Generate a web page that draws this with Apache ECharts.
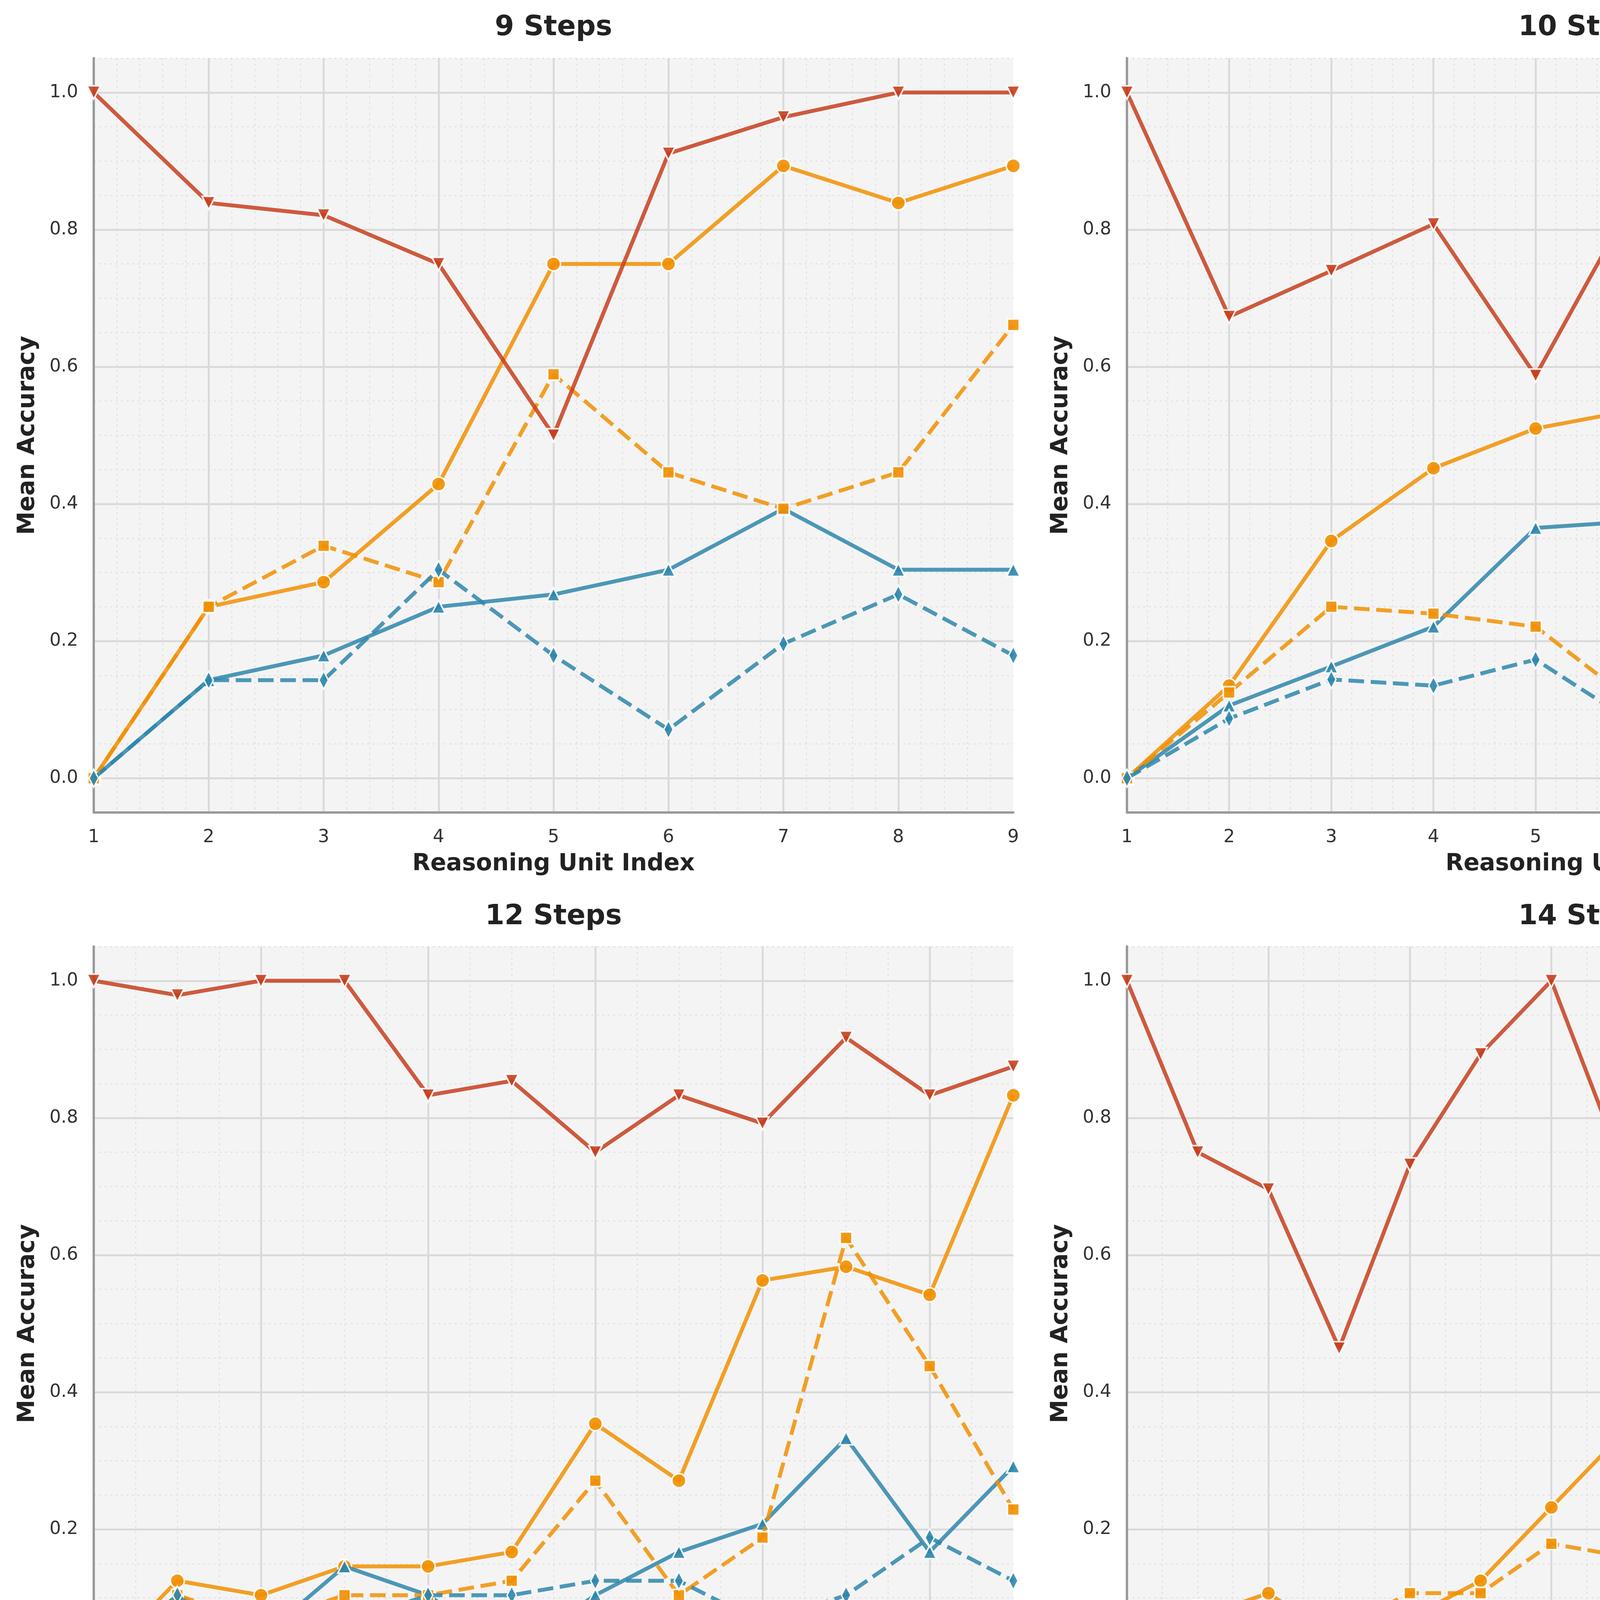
<!DOCTYPE html>
<html><head><meta charset="utf-8">
<script src="https://cdn.jsdelivr.net/npm/echarts@6/dist/echarts.min.js"></script>
<style>html,body{margin:0;padding:0;background:#fff}#c{width:7958px;height:4811px}</style>
</head><body><div id="c"></div>
<script>
const seriesNames = ['Reasoning Prefix', 'Reasoning Prefix (Questions Only)', 'Single-Unit Injection', 'Single-Unit Injection (Question Only)', 'Unit Execution Accuracy'];
const panelSteps = [9, 10, 11, 12, 14, 17];
const yTickLabels = ['0.0', '0.2', '0.4', '0.6', '0.8', '1.0'];

// 9 steps
const prefix9   = [0, 0.25, 0.286, 0.429, 0.75, 0.75, 0.893, 0.839, 0.893];
const prefixQ9  = [0, 0.143, 0.179, 0.25, 0.268, 0.304, 0.393, 0.304, 0.304];
const inject9   = [0, 0.25, 0.339, 0.286, 0.589, 0.446, 0.393, 0.446, 0.661];
const injectQ9  = [0, 0.143, 0.143, 0.304, 0.179, 0.071, 0.196, 0.268, 0.179];
const unit9     = [1.0, 0.839, 0.821, 0.75, 0.5, 0.911, 0.964, 1.0, 1.0];
// 10 steps
const prefix10  = [0, 0.135, 0.346, 0.452, 0.51, 0.538, 0.538, 0.596, 0.712, 0.76];
const prefixQ10 = [0, 0.106, 0.163, 0.221, 0.365, 0.375, 0.404, 0.404, 0.452, 0.558];
const inject10  = [0, 0.125, 0.25, 0.24, 0.221, 0.106, 0.154, 0.125, 0.529, 0.596];
const injectQ10 = [0, 0.087, 0.144, 0.135, 0.173, 0.077, 0.106, 0.135, 0.125, 0.115];
const unit10    = [1.0, 0.673, 0.74, 0.808, 0.587, 0.856, 0.798, 0.904, 0.962, 0.808];
// 11 steps
const prefix11  = [0, 0.25, 0.234, 0.219, 0.297, 0.391, 0.547, 0.5, 0.656, 0.656, 0.813];
const prefixQ11 = [0, 0.141, 0.219, 0.266, 0.344, 0.422, 0.516, 0.563, 0.609, 0.578, 0.688];
const inject11  = [0, 0.344, 0.203, 0.156, 0.344, 0.484, 0.453, 0.516, 0.578, 0.422, 0.609];
const injectQ11 = [0, 0.234, 0.234, 0.25, 0.375, 0.375, 0.266, 0.234, 0.297, 0.406, 0.297];
const unit11    = [1.0, 0.891, 0.953, 0.781, 0.625, 0.859, 0.875, 0.625, 0.969, 0.891, 0.813];
// 12 steps
const prefix12  = [0, 0.125, 0.104, 0.146, 0.146, 0.167, 0.354, 0.271, 0.563, 0.583, 0.542, 0.833];
const prefixQ12 = [0, 0.104, 0.042, 0.146, 0.104, 0.021, 0.104, 0.167, 0.208, 0.333, 0.167, 0.292];
const inject12  = [0, 0.104, 0.063, 0.104, 0.104, 0.125, 0.271, 0.104, 0.188, 0.625, 0.438, 0.229];
const injectQ12 = [0, 0.104, 0, 0.063, 0.104, 0.104, 0.125, 0.125, 0.063, 0.104, 0.188, 0.125];
const unit12    = [1.0, 0.979, 1.0, 1.0, 0.833, 0.854, 0.75, 0.833, 0.792, 0.917, 0.833, 0.875];
// 14 steps
const prefix14  = [0, 0.071, 0.107, 0.036, 0.071, 0.125, 0.232, 0.339, 0.518, 0.518, 0.393, 0.429, 0.643, 0.929];
const prefixQ14 = [0, 0.036, 0.036, 0.018, 0.018, 0.036, 0, 0.036, 0.143, 0.143, 0.107, 0.143, 0.143, 0.214];
const inject14  = [0, 0.089, 0.054, 0.054, 0.107, 0.107, 0.179, 0.161, 0.161, 0.214, 0.196, 0.286, 0.589, 0.964];
const injectQ14 = [0, 0.071, 0.071, 0, 0.018, 0.054, 0.036, 0.071, 0.089, 0.107, 0.143, 0.179, 0.054, 0.179];
const unit14    = [1.0, 0.75, 0.696, 0.464, 0.732, 0.893, 1.0, 0.732, 0.821, 0.732, 0.696, 0.661, 0.643, 0.857];
// 17 steps
const prefix17  = [0, 0, 0, 0, 0, 0, 0.075, 0.075, 0.125, 0.3, 0.375, 0.3, 0.375, 0.3, 0.375, 0.25, 0.65];
const prefixQ17 = [0, 0, 0.025, 0, 0, 0, 0, 0, 0, 0.05, 0.1, 0.2, 0.175, 0.225, 0.25, 0.325, 0.3];
const inject17  = [0, 0, 0.025, 0, 0, 0, 0, 0, 0, 0.05, 0.05, 0.075, 0, 0.025, 0, 0.175, 0.425];
const injectQ17 = [0, 0, 0, 0, 0.025, 0, 0, 0, 0, 0, 0, 0, 0, 0, 0, 0, 0];
const unit17    = [1, 1, 0.725, 1, 1, 0.675, 0.85, 1, 0.95, 0.4, 0.8, 1, 0.9, 0.725, 1, 0.425, 0.6];

const panelData = [
  [prefix9, prefixQ9, inject9, injectQ9, unit9],
  [prefix10, prefixQ10, inject10, injectQ10, unit10],
  [prefix11, prefixQ11, inject11, injectQ11, unit11],
  [prefix12, prefixQ12, inject12, injectQ12, unit12],
  [prefix14, prefixQ14, inject14, injectQ14, unit14],
  [prefix17, prefixQ17, inject17, injectQ17, unit17]
];

const ORANGE = '#F18F01', BLUE = '#2E86AB', RED = '#C73E1D';
const FONT = 'DejaVu Sans';
const styles = [
  {color: ORANGE, symbol: 'circle', size: 36, rotate: 0, dash: 'solid'},
  {color: BLUE, symbol: 'triangle', size: 34, rotate: 0, dash: 'solid'},
  {color: ORANGE, symbol: 'rect', size: 30, rotate: 0, dash: [40, 17]},
  {color: BLUE, symbol: 'path://M0,-1 L0.55,0 L0,1 L-0.55,0 Z', size: [24, 46], rotate: 0, dash: [40, 17]},
  {color: RED, symbol: 'triangle', size: 34, rotate: 180, dash: 'solid'}
];

const colLeft = [240, 2885, 5532];
const plotW = 2354;
const rowTop = [149, 2423];
const plotH = 1931;
const titleTop = [36, 2312];

const grids = [], xAxes = [], yAxes = [], titles = [], series = [];
panelSteps.forEach((N, i) => {
  const col = i % 3, row = Math.floor(i / 3);
  grids.push({left: colLeft[col], top: rowTop[row], width: plotW, height: plotH,
    show: true, backgroundColor: '#f4f4f4', borderWidth: 0});
  titles.push({text: N + ' Steps', left: colLeft[col] + plotW / 2, top: titleTop[row], textAlign: 'center', padding: 0,
    textStyle: {fontFamily: FONT, fontSize: 71, fontWeight: 'bold', color: '#222'}});
  const step = N <= 10 ? 1 : 2;
  xAxes.push({type: 'value', gridIndex: i, min: 1, max: N, interval: step,
    name: 'Reasoning Unit Index', nameLocation: 'middle', nameGap: 102,
    nameTextStyle: {fontFamily: FONT, fontSize: 60, fontWeight: 'bold', color: '#222'},
    axisLine: {show: true, onZero: false, lineStyle: {color: '#999999', width: 6}},
    axisTick: {show: false},
    axisLabel: {fontFamily: FONT, fontSize: 46, color: '#333', margin: 41,
      showMinLabel: true, showMaxLabel: ((N - 1) % step === 0)},
    splitLine: {show: true, showMinLine: false, showMaxLine: false, lineStyle: {color: '#dadada', width: 5}},
    z: 2});
  xAxes.push({type: 'value', gridIndex: i, min: 1, max: N, interval: step === 1 ? 0.2 : 0.5, position: 'bottom',
    axisLine: {show: false}, axisTick: {show: false}, axisLabel: {show: false},
    splitLine: {show: true, showMinLine: false, showMaxLine: false, lineStyle: {color: '#e2e2e2', width: 3, type: [5, 9]}},
    z: 1});
  yAxes.push({type: 'value', gridIndex: i, min: -0.05, max: 1.05,
    name: 'Mean Accuracy', nameLocation: 'middle', nameGap: 139, nameRotate: 90,
    nameTextStyle: {fontFamily: FONT, fontSize: 60, fontWeight: 'bold', color: '#222'},
    axisLine: {show: true, onZero: false, lineStyle: {color: '#999999', width: 6}},
    axisTick: {show: false},
    axisLabel: {fontFamily: FONT, fontSize: 46, color: '#333', margin: 40,
      formatter: v => { const k = Math.round(v * 5); return Math.abs(v * 5 - k) < 1e-6 && k >= 0 && k <= 5 ? yTickLabels[k] : ''; }},
    splitLine: {show: true, showMinLine: false, showMaxLine: false, lineStyle: {color: '#dadada', width: 5}},
    z: 2});
  yAxes.push({type: 'value', gridIndex: i, min: -0.05, max: 1.05, interval: 0.05, position: 'left',
    axisLine: {show: false}, axisTick: {show: false}, axisLabel: {show: false},
    splitLine: {show: true, showMinLine: false, showMaxLine: true, lineStyle: {color: '#e2e2e2', width: 3, type: [5, 9]}},
    z: 1});
  panelData[i].forEach((arr, k) => {
    const s = styles[k];
    series.push({type: 'line', name: seriesNames[k], xAxisIndex: 2 * i, yAxisIndex: 2 * i,
      data: arr.map((v, j) => [j + 1, v]),
      symbol: s.symbol, symbolSize: s.size, symbolRotate: s.rotate, symbolKeepAspect: false,
      showSymbol: true, clip: true,
      lineStyle: {color: s.color, width: 10, type: s.dash, opacity: 0.85},
      itemStyle: {color: s.color, borderColor: '#ffffff', borderWidth: 4, opacity: 0.9},
      emphasis: {disabled: true}, silent: true, animation: false, z: 3 + k});
  });
});

const legendData = seriesNames.map((n, k) => ({
  name: n,
  lineStyle: {color: styles[k].color, width: 10, type: styles[k].dash, opacity: 0.85},
  itemStyle: {color: styles[k].color, borderColor: '#ffffff', borderWidth: 4, opacity: 0.9}
}));

const chart = echarts.init(document.getElementById('c'), null, {renderer: 'canvas'});
chart.setOption({
  backgroundColor: '#ffffff',
  animation: false,
  title: titles,
  grid: grids,
  xAxis: xAxes,
  yAxis: yAxes,
  legend: {data: legendData, left: 'center', top: 4663, orient: 'horizontal',
    itemWidth: 163, itemHeight: 46, itemGap: 82,
    backgroundColor: '#eaeaf2', borderColor: '#cccccc', borderWidth: 5, borderRadius: 10,
    padding: [26, 18, 26, 18],
    textStyle: {fontFamily: FONT, fontSize: 61, color: '#222', padding: [0, 0, 0, 40]}},
  series: series
});
</script></body></html>
